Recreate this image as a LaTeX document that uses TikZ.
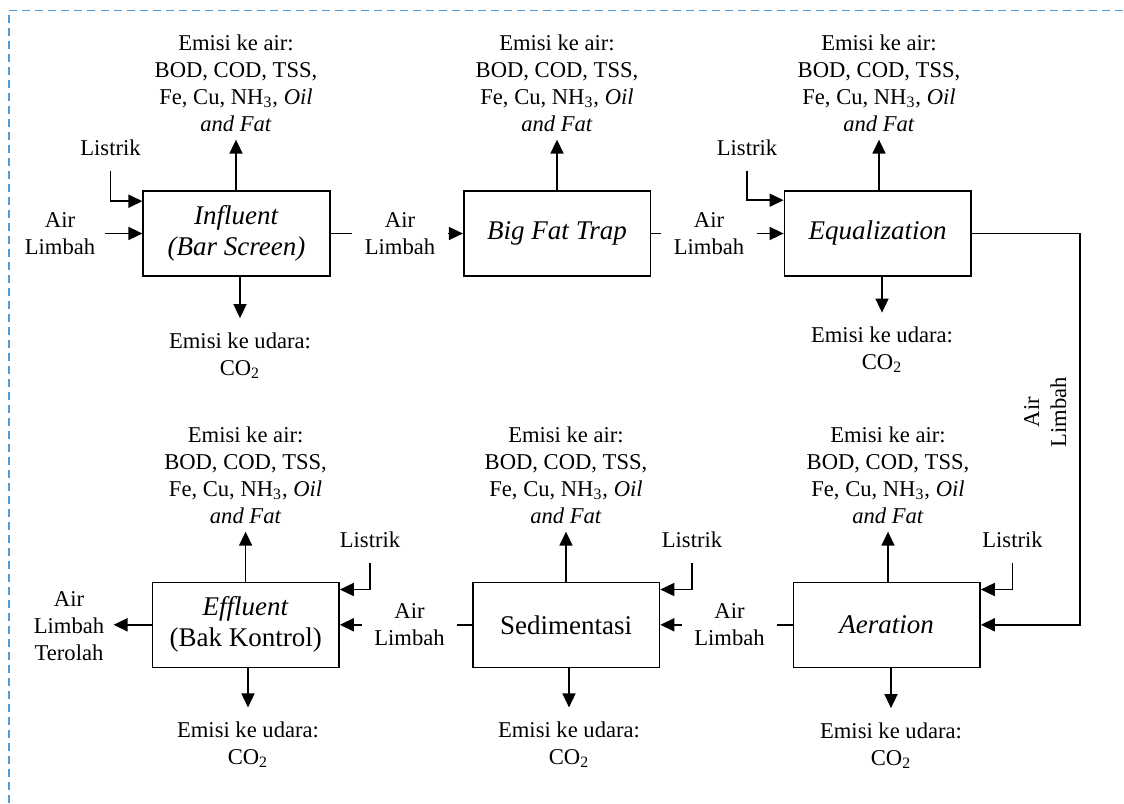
\documentclass[tikz,border=0pt]{standalone}
\usepackage{fontspec}
\setmainfont{Liberation Serif}
\usetikzlibrary{arrows.meta}
\definecolor{bordblue}{RGB}{80,156,218}
\tikzset{
  proc/.style={draw, line width=0.8pt, minimum width=93.3pt, minimum height=42.5pt, inner sep=2pt, align=center, font=\fontsize{13.5}{15.5}\selectfont},
  txt/.style={align=center, font=\fontsize{11.3}{13.5}\selectfont, inner xsep=1pt},
  emisup/.style={txt, inner ysep=3.75pt},
  emisdn/.style={txt, inner ysep=7pt},
  listrik/.style={txt, inner ysep=7.25pt},
  flowlbl/.style={txt, inner xsep=6pt, inner ysep=1pt},
  endlbl/.style={txt, inner xsep=4.5pt, inner ysep=1pt},
  ln/.style={line width=0.8pt},
  arr/.style={line width=0.8pt, -{Triangle[length=7pt,width=6.5pt]}},
  bord/.style={draw=bordblue, line width=0.6pt, dash pattern=on 4pt off 2.5pt}
}
\newcommand{\emisair}{Emisi ke air:\\BOD, COD, TSS,\\Fe, Cu, NH\textsubscript{3}, \textit{Oil}\\\textit{and Fat}}
\newcommand{\emisudara}{Emisi ke udara:\\CO\textsubscript{2}}
\begin{document}
\begin{tikzpicture}[x=0.5pt,y=-0.5pt]
\useasboundingbox (0,0) rectangle (1124,803);
\draw[bord] (9,803) -- (9,10.5) -- (1124,10.5);

% process boxes
\node[proc] (b1) at (236.5,233.5) {\textit{Influent}\\\textit{(Bar Screen)}};
\node[proc] (b2) at (557,233.5) {\textit{Big Fat Trap}};
\node[proc] (b3) at (877.7,233.5) {\textit{Equalization}};
\node[proc] (b4) at (245.7,624.8) {\textit{Effluent}\\(Bak Kontrol)};
\node[proc] (b5) at (566.2,624.8) {Sedimentasi};
\node[proc] (b6) at (886.7,624.8) {\textit{Aeration}};

% emission to water labels
\node[emisup] (ea1) at (236,83.3) {\emisair};
\node[emisup] (ea2) at (557,83.3) {\emisair};
\node[emisup] (ea3) at (879,83.3) {\emisair};
\node[emisup] (ea4) at (245.6,475.3) {\emisair};
\node[emisup] (ea5) at (566,475.3) {\emisair};
\node[emisup] (ea6) at (888,475.3) {\emisair};

% emission to air labels
\node[emisdn] (eu1) at (240,355.5) {\emisudara};
\node[emisdn] (eu3) at (882,350) {\emisudara};
\node[emisdn] (eu4) at (248,744.8) {\emisudara};
\node[emisdn] (eu5) at (569,744.8) {\emisudara};
\node[emisdn] (eu6) at (891,745.5) {\emisudara};

\foreach \b/\e in {b1/ea1,b2/ea2,b3/ea3,b4/ea4,b5/ea5,b6/ea6}
  \draw[arr] (\e |- \b.north) -- (\e.south);
\foreach \b/\e in {b1/eu1,b3/eu3,b4/eu4,b5/eu5,b6/eu6}
  \draw[arr] (\e |- \b.south) -- (\e.north);

% Listrik inputs
\node[listrik] (l1) at (110.5,147.8) {Listrik};
\node[listrik] (l3) at (747,147.8) {Listrik};
\node[listrik] (l4) at (370,539.8) {Listrik};
\node[listrik] (l5) at (692,539.8) {Listrik};
\node[listrik] (l6) at (1012.5,539.8) {Listrik};
\draw[arr] (l1.south) |- ([yshift=-5.5pt]b1.north west);
\draw[arr] (l3.south) |- ([yshift=-5pt]b3.north west);
\draw[arr] (l4.south) |- ([yshift=-4pt]b4.north east);
\draw[arr] (l5.south) |- ([yshift=-4pt]b5.north east);
\draw[arr] (l6.south) |- ([yshift=-4pt]b6.north east);

% waste water flow
\node[endlbl] (in1) at (60,233.5) {Air\\Limbah};
\draw[arr] (in1.east) -- (b1.west);

\node[flowlbl] (w12) at (400,233.5) {Air\\Limbah};
\draw[ln] (b1.east) -- (w12.west);
\draw[arr] (w12.east) -- (b2.west);

\node[flowlbl] (w23) at (709,233.5) {Air\\Limbah};
\draw[ln] (b2.east) -- (w23.west);
\draw[arr] (w23.east) -- (b3.west);

\coordinate (turn) at (1080,624.8);
\node[txt, rotate=90] (w36) at (1045.3,412) {Air\\Limbah};
\draw[arr] (b3.east) -| (turn) -- (b6.east);

\node[flowlbl] (w65) at (729.5,624.8) {Air\\Limbah};
\draw[ln] (b6.west) -- (w65.east);
\draw[arr] (w65.west) -- (b5.east);

\node[flowlbl] (w54) at (409.5,624.8) {Air\\Limbah};
\draw[ln] (b5.west) -- (w54.east);
\draw[arr] (w54.west) -- (b4.east);

\node[endlbl] (out) at (69,626) {Air\\Limbah\\Terolah};
\draw[arr] (b4.west) -- (out.east |- b4.west);
\end{tikzpicture}
\end{document}
